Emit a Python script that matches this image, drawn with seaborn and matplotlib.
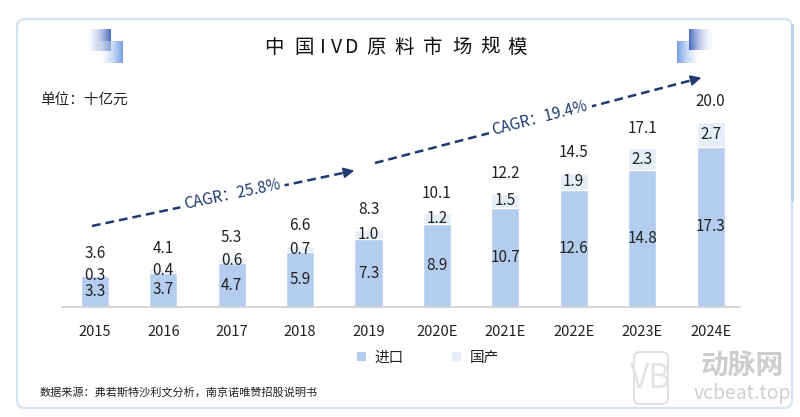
import numpy as np
import pandas as pd
import matplotlib
matplotlib.use("Agg")
import matplotlib.pyplot as plt
import seaborn as sns
from matplotlib.patches import FancyBboxPatch, Patch

sns.set_theme(style="white")
plt.rcParams['font.family'] = ['Noto Sans CJK SC', 'DejaVu Sans']

# data (十亿元)
years = ['2015', '2016', '2017', '2018', '2019', '2020E', '2021E', '2022E', '2023E', '2024E']
imported = [3.3, 3.7, 4.7, 5.9, 7.3, 8.9, 10.7, 12.6, 14.8, 17.3]
domestic = [0.3, 0.4, 0.6, 0.7, 1.0, 1.2, 1.5, 1.9, 2.3, 2.7]
totals = [3.6, 4.1, 5.3, 6.6, 8.3, 10.1, 12.2, 14.5, 17.1, 20.0]

c_imp = '#b4cdee'
c_dom = '#e6eef9'
navy = '#1f3a6e'
txt = '#222222'

df = pd.DataFrame({'year': years, 'imported': imported, 'domestic': domestic, 'total': totals})

W, H = 800, 417
fig = plt.figure(figsize=(8, 4.17), dpi=100)

# main axes: baseline at y=307px, 2015 centre at x=95px, 68.4px per category
ax = fig.add_axes([62 / W, (H - 307) / H, 678 / W, 222.5 / H])
ax.patch.set_alpha(0)
sns.barplot(data=df, x='year', y='total', color=c_dom, width=0.41, saturation=1, ax=ax)
sns.barplot(data=df, x='year', y='imported', color=c_imp, width=0.41, saturation=1, ax=ax)
ax.set_xlim(-0.48, 9.43)
ax.set_ylim(0, 24)
ax.set_xlabel('')
ax.set_ylabel('')
ax.set_yticks([])
for s in ['top', 'right', 'left']:
    ax.spines[s].set_visible(False)
ax.spines['bottom'].set_color('#d0d0d0')
ax.spines['bottom'].set_linewidth(1.2)
ax.tick_params(axis='x', length=0, pad=13, labelsize=10.5, labelcolor=txt)

for i in range(len(years)):
    ax.text(i, imported[i] / 2, f'{imported[i]:.1f}', ha='center', va='center', fontsize=11, color=txt)
    ax.text(i, imported[i] + domestic[i] / 2, f'{domestic[i]:.1f}', ha='center', va='center', fontsize=11, color=txt)
    ax.annotate(f'{totals[i]:.1f}', (i, totals[i]), xytext=(0, 14.5), textcoords='offset points',
                ha='center', va='center', fontsize=11, color=txt)

# legend
handles = [Patch(facecolor=c_imp, edgecolor='none', label='进口'),
           Patch(facecolor=c_dom, edgecolor='none', label='国产')]
fig.legend(handles=handles, loc='center', bbox_to_anchor=(428 / W, 1 - 358 / H), ncol=2, frameon=False,
           fontsize=10.5, handlelength=0.6, handleheight=0.6, handletextpad=0.6, columnspacing=3.3,
           labelcolor=txt)

# overlay for decorations
ov = fig.add_axes([0, 0, 1, 1])
ov.set_xlim(0, W)
ov.set_ylim(H, 0)
ov.axis('off')
ov.patch.set_alpha(0)

card = FancyBboxPatch((17, 19), 775, 389, boxstyle='round,pad=0,rounding_size=8',
                      facecolor='none', edgecolor='#d4e3f4', linewidth=1.6)
ov.add_patch(card)
ov.plot([792, 792], [25, 200], color='#b7d1ee', lw=2.2, solid_capstyle='round')


def grad_square(x0, y0, w, h, rgb, reverse, z):
    t = np.linspace(0, 1, 50)
    if reverse:
        t = t[::-1]
    img = np.ones((2, 50, 4))
    for k in range(3):
        img[:, :, k] = 1 - t * (1 - rgb[k])
    img[:, :, 3] = 0.25 + 0.75 * t
    ov.imshow(img, extent=(x0, x0 + w, y0 + h, y0), aspect='auto', zorder=z, interpolation='bilinear')


dark = (0.29, 0.42, 0.75)
mid = (0.45, 0.62, 0.88)
grad_square(87, 29, 24, 22, dark, False, 2)
grad_square(99, 41, 24, 22, mid, False, 3)
grad_square(677, 41, 24, 22, mid, True, 2)
grad_square(689, 29, 24, 21, dark, True, 3)
ov.set_xlim(0, W)
ov.set_ylim(H, 0)

# title, letter-spaced (one glyph at a time)
title = '中国IVD原料市场规模'
title_x = [274, 304, 322.5, 337, 352, 376, 404, 433, 462, 490, 517]
for ch, cx in zip(title, title_x):
    ov.text(cx, 47, ch, ha='center', va='center', fontsize=14, color='#111111')

ov.text(40, 100, '单位：十亿元', ha='left', va='center', fontsize=10.5, color=txt)
ov.text(40, 392, '数据来源：弗若斯特沙利文分析，南京诺唯赞招股说明书', ha='left', va='center', fontsize=8, color=txt)

# CAGR arrows
for (x0, y0), (x1, y1), (tx, ty), label in [((92, 226), (357, 170), (232, 194), 'CAGR：25.8%'),
                                          ((375, 163), (704, 77), (540, 118), 'CAGR：19.4%')]:
    ang = np.degrees(np.arctan2(y0 - y1, x1 - x0))
    ux, uy = (x1 - x0), (y1 - y0)
    n = np.hypot(ux, uy)
    ex, ey = x1 - ux / n * 10, y1 - uy / n * 10
    ov.plot([x0, ex], [y0, ey], color=navy, lw=1.8, ls=(0, (3.5, 2)))
    ov.annotate('', xy=(x1, y1), xytext=(ex - ux / n * 2, ey - uy / n * 2),
                arrowprops=dict(arrowstyle='-|>', color=navy, lw=1.2, mutation_scale=16))
    ov.text(tx, ty, label, ha='center', va='center', rotation=ang, fontsize=11, style='italic', color=navy,
            bbox=dict(facecolor='white', edgecolor='none', pad=3))

# watermark
ov.text(651, 378, 'VB', ha='center', va='center', fontsize=24, color='#e4e4e4')
ov.add_patch(FancyBboxPatch((634, 352), 34, 52, boxstyle='round,pad=0,rounding_size=6',
                            facecolor='none', edgecolor='#dcdcdc', linewidth=1.2))
ov.text(742, 367, '动脉网', ha='center', va='center', fontsize=20, color='#cdcdcd', fontweight='bold')
ov.text(742, 394, 'vcbeat.top', ha='center', va='center', fontsize=14, color='#d0d0d0')

fig.savefig('out.png', dpi=100)
